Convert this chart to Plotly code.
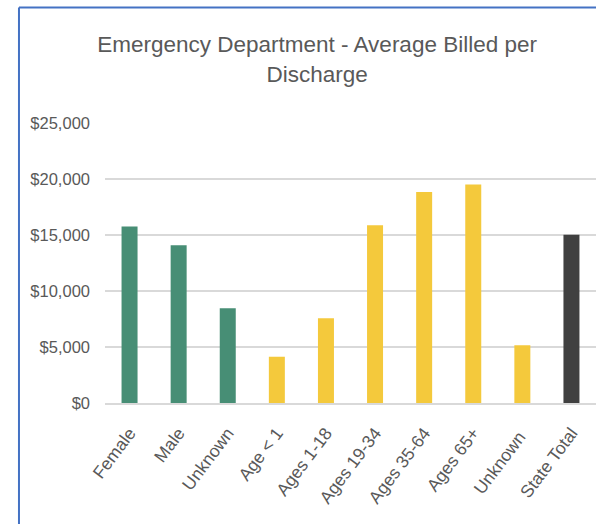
import plotly.graph_objects as go

categories = ["Female", "Male", "Unknown", "Age < 1", "Ages 1-18", "Ages 19-34",
              "Ages 35-64", "Ages 65+", "Unknown ", "State Total"]
values = [15750, 14080, 8460, 4130, 7560, 15860, 18840, 19500, 5150, 15030]
groups = ["gender"] * 3 + ["age"] * 6 + ["total"]
group_colors = {"gender": "#478E75", "age": "#F4C93C", "total": "#404040"}
y_ticks = [0, 5000, 10000, 15000, 20000, 25000]
y_tick_labels = ["$0", "$5,000", "$10,000", "$15,000", "$20,000", "$25,000"]

FONT = "Liberation Sans, Arial, sans-serif"

fig = go.Figure(go.Bar(
    x=categories, y=values,
    marker=dict(color=[group_colors[g] for g in groups], line=dict(width=0)),
))

fig.update_layout(
    width=596, height=524,
    margin=dict(l=105, r=0, t=123, b=121),
    paper_bgcolor="white", plot_bgcolor="white",
    bargap=0.674,
    showlegend=False,
    font=dict(family=FONT, color="#595959"),
    title=dict(text="Emergency Department - Average Billed per<br>Discharge",
               x=0.532, xanchor="center", y=0.9, yanchor="top",
               font=dict(family=FONT, size=22.5, color="#595959")),
)
fig.update_yaxes(range=[0, 25000], tickvals=y_ticks, ticktext=y_tick_labels,
                 showgrid=True, gridcolor="#D9D9D9", gridwidth=1.8,
                 zeroline=False, showline=False, ticks="",
                 ticklabelstandoff=14, tickfont=dict(size=16.5, color="#595959"))
fig.update_xaxes(tickangle=-53, showgrid=False, showline=True,
                 linecolor="#D9D9D9", linewidth=1.8, ticks="",
                 ticklabelstandoff=11, tickfont=dict(size=17.5, color="#595959"))

# chart-area border (left and top edges visible in the crop)
fig.add_shape(type="line", xref="paper", yref="paper",
              x0=-0.1752, x1=-0.1752, y0=-0.5, y1=1.4125,
              line=dict(color="#4472C4", width=2))
fig.add_shape(type="line", xref="paper", yref="paper",
              x0=-0.1752, x1=1.05, y0=1.4125, y1=1.4125,
              line=dict(color="#4472C4", width=2))

fig.write_html("out.html", config={"displayModeBar": False},
               post_script="document.body.style.margin='0';")
